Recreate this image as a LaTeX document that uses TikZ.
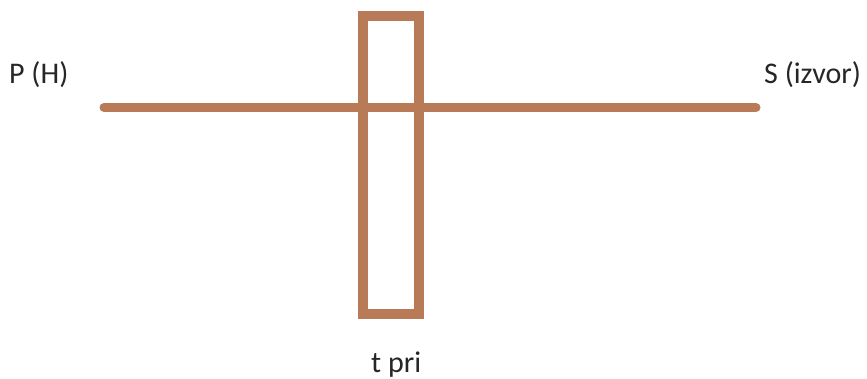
\documentclass[tikz,border=0pt]{standalone}
\usepackage{fontspec}
\setmainfont{Carlito}
\usepackage{xcolor}
\definecolor{paintbrown}{RGB}{185, 122, 87}
\usetikzlibrary{positioning}

\begin{document}
\begin{tikzpicture}[x=1pt, y=-1pt,
    lbl/.style={anchor=base west, inner sep=0pt, font=\fontsize{30}{34}\selectfont, text=black!85}]
  \useasboundingbox (0,0) rectangle (867,379);
  % horizontal line
  \coordinate (pend) at (104,107.5);
  \coordinate (send) at (756,107.5);
  \draw[paintbrown, line width=9pt, line cap=round] (pend) -- (send);
  % bar
  \draw[paintbrown, line width=10pt] (363,16) rectangle (419,314);
  % labels
  \node[lbl] (ph) at (9,84) {P (H)};
  \node[lbl] (sizvor) at (764,84) {S (izvor)};
  \node[lbl] (tpri) at (371,372) {t pri};
\end{tikzpicture}
\end{document}
